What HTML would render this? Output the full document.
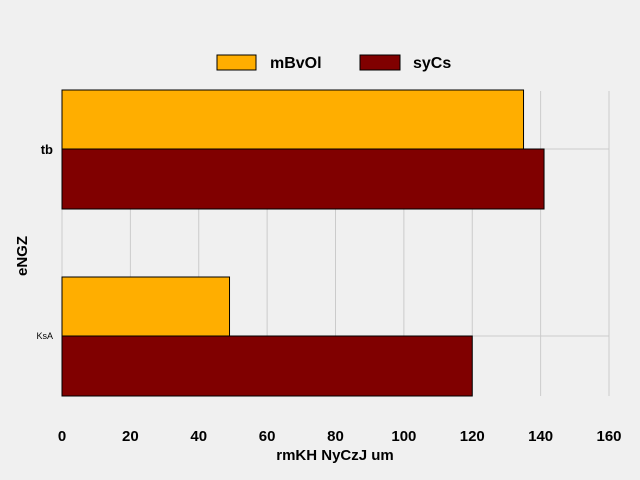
<!DOCTYPE html>
<html><head><meta charset="utf-8"><style>
body{margin:0;background:#f0f0f0;}
svg{display:block;font-family:"Liberation Sans",Arial,sans-serif;}
</style></head><body>
<svg id="chart" width="640" height="480">
<rect width="640" height="480" fill="#f0f0f0"/>
<g id="grid"></g>
<g id="bars"></g>
<g id="ticks"></g>
<text x="335" y="460" text-anchor="middle" font-size="15" font-weight="bold">rmKH NyCzJ um</text>
<text transform="translate(27,256) rotate(-90)" text-anchor="middle" font-size="15" font-weight="bold">eNGZ</text>
<g>
<rect x="217" y="55" width="39" height="15" fill="#ffae00" stroke="#000" stroke-width="1"/>
<text x="270" y="68" font-size="16" font-weight="bold">mBvOl</text>
<rect x="360" y="55" width="40" height="15" fill="#800000" stroke="#000" stroke-width="1"/>
<text x="413" y="68" font-size="16" font-weight="bold">syCs</text>
</g>
</svg>
<script>
const categories=["tb","KsA"];
const seriesNames=["mBvOl","syCs"];
const mBvOl=[135,49];
const syCs=[141,120];
const xTicks=[0,20,40,60,80,100,120,140,160];
const NS="http://www.w3.org/2000/svg";
const x0=62,x1=609,xmax=160;
const xs=v=>x0+(x1-x0)*v/xmax;
const catY=[149,336];
const ys=i=>catY[0]+(catY[1]-catY[0])*i;
const bw=59;
function mk(t,a,p){const e=document.createElementNS(NS,t);for(const k in a)e.setAttribute(k,a[k]);p.appendChild(e);return e;}
const grid=document.getElementById('grid'),bars=document.getElementById('bars'),ticks=document.getElementById('ticks');
xTicks.forEach(t=>{
 const l=mk('line',{x1:xs(t),x2:xs(t),y1:91,y2:396,stroke:'#cbcbcb','stroke-width':1},grid);
 
 
 const tx=mk('text',{x:xs(t),y:441,'text-anchor':'middle','font-size':15,'font-weight':'bold'},ticks);
 tx.textContent=t;
 
 
});
categories.forEach((c,i)=>{
 const y=ys(i);
 const l=mk('line',{x1:x0,x2:x1,y1:y,y2:y,stroke:'#cbcbcb','stroke-width':1},grid);
 
 
 const tx=mk('text',{x:i==0?53:53,y:i==0?y+5:y+3,'text-anchor':'end','font-size':i==0?13:9,'font-weight':i==0?'bold':'normal'},ticks);
 tx.textContent=c;
 
 
 const a=mk('rect',{x:xs(0),y:y-bw,width:xs(mBvOl[i])-xs(0),height:bw,fill:'#ffae00',stroke:'#000','stroke-width':1},bars);
 
 
 const b=mk('rect',{x:xs(0),y:y,width:xs(syCs[i])-xs(0),height:bw+1,fill:'#800000',stroke:'#000','stroke-width':1},bars);
 
 
});
</script>
</body></html>
